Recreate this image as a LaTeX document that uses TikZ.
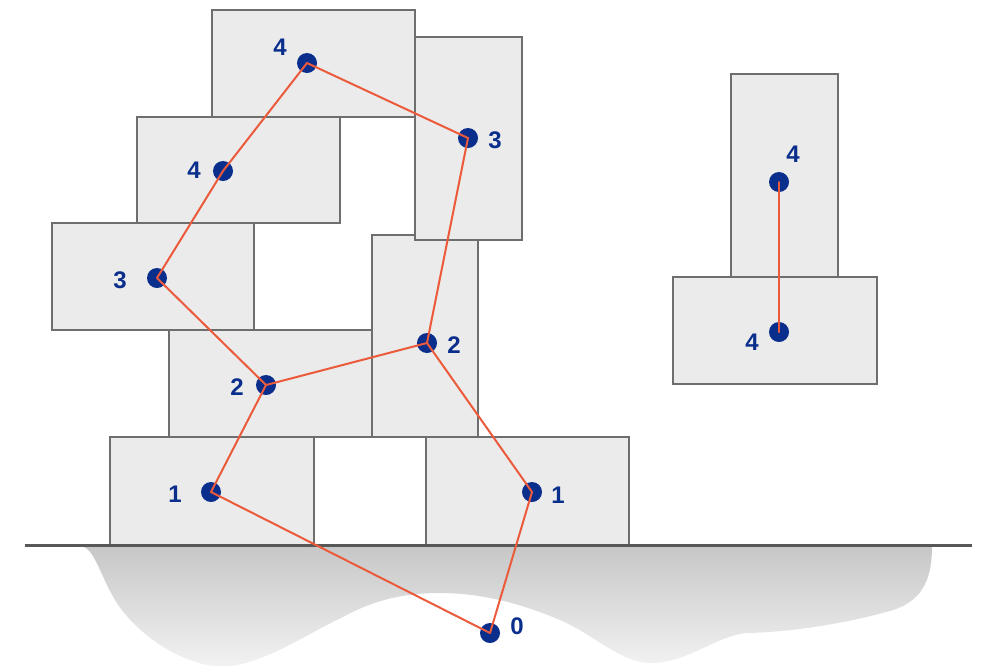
\documentclass[tikz,border=0pt]{standalone}
\usepackage{fontspec}
\setmainfont{Liberation Sans}
\begin{document}
\begin{tikzpicture}[x=1pt,y=-1pt,
  blockbox/.style={draw=blockedge, fill=blockfill, line width=1.5pt, inner sep=0pt, outer sep=0pt, rectangle},
  joint/.style={circle, fill=jointblue, minimum size=20pt, inner sep=0pt},
  link/.style={draw=linkred, line width=2pt, line cap=round, line join=round},
  tag/.style={text=jointblue, font=\fontsize{24}{26}\selectfont\bfseries, inner sep=0pt}]
\definecolor{blockfill}{HTML}{EBEBEB}
\definecolor{blockedge}{HTML}{6E6E6E}
\definecolor{jointblue}{HTML}{0A2E8C}
\definecolor{linkred}{HTML}{EC5A3C}
\definecolor{groundline}{HTML}{585858}
\useasboundingbox (0,0) rectangle (987,665);

% ground mass below the base line
\begin{scope}
\clip (0,0) rectangle (987,665);
\path[top color=black!22, bottom color=black!5]
  (82,546) -- (932,546)
  .. controls (932,575) and (925,600) .. (893,610)
  .. controls (860,620) and (800,632) .. (747,633)
  .. controls (715,636) and (690,662) .. (652,663)
  .. controls (620,663) and (595,635) .. (560,620)
  .. controls (520,603) and (480,593) .. (440,593)
  .. controls (400,593) and (370,602) .. (343,617)
  .. controls (310,632) and (260,667) .. (220,667)
  .. controls (170,662) and (130,625) .. (115,600)
  .. controls (100,575) and (95,550) .. (82,546) -- cycle;
\end{scope}

% blocks
\node[blockbox, minimum width=204pt, minimum height=108pt] (bA) at (212,491) {};
\node[blockbox, minimum width=203pt, minimum height=108pt] (bB) at (527.5,491) {};
\node[blockbox, minimum width=203pt, minimum height=107pt] (bC) at (270.5,383.5) {};
\node[blockbox, minimum width=106pt, minimum height=202pt] (bD) at (425,336) {};
\node[blockbox, minimum width=202pt, minimum height=107pt] (bE) at (153,276.5) {};
\node[blockbox, minimum width=203pt, minimum height=106pt] (bF) at (238.5,170) {};
\node[blockbox, minimum width=203pt, minimum height=107pt] (bG) at (313.5,63.5) {};
\node[blockbox, minimum width=107pt, minimum height=203pt] (bH) at (468.5,138.5) {};
\node[blockbox, minimum width=107pt, minimum height=203pt] (bI) at (784.5,175.5) {};
\node[blockbox, minimum width=204pt, minimum height=107pt] (bJ) at (775,330.5) {};

% base line
\coordinate (gl) at (25,545);
\coordinate (gr) at (972,545);
\draw[groundline, line width=3pt] (gl) -- (gr);

% joints
\node[joint] (j0) at (490,633) {};
\node[joint] (j1a) at (211,492) {};
\node[joint] (j1b) at (532,492) {};
\node[joint] (j2a) at (266,385) {};
\node[joint] (j2b) at (427,343) {};
\node[joint] (j3a) at (157,278) {};
\node[joint] (j3b) at (468,138) {};
\node[joint] (j4a) at (223,171) {};
\node[joint] (j4b) at (307,63) {};
\node[joint] (k4a) at (779,182) {};
\node[joint] (k4b) at (779,332) {};

% links
\draw[link] (j0.center) -- (j1a.center);
\draw[link] (j0.center) -- (j1b.center);
\draw[link] (j1a.center) -- (j2a.center);
\draw[link] (j1b.center) -- (j2b.center);
\draw[link] (j2a.center) -- (j2b.center);
\draw[link] (j2a.center) -- (j3a.center);
\draw[link] (j2b.center) -- (j3b.center);
\draw[link] (j3a.center) -- (j4a.center);
\draw[link] (j4a.center) -- (j4b.center);
\draw[link] (j4b.center) -- (j3b.center);
\draw[link] (k4a.center) -- (k4b.center);

% labels
\node[tag] (t0) at (517,626) {0};
\node[tag] (t1a) at (175,494) {1};
\node[tag] (t1b) at (558,495) {1};
\node[tag] (t2a) at (237,387) {2};
\node[tag] (t2b) at (454,345) {2};
\node[tag] (t3a) at (120,280) {3};
\node[tag] (t3b) at (495,140) {3};
\node[tag] (t4a) at (194,170) {4};
\node[tag] (t4b) at (280,47) {4};
\node[tag] (u4a) at (793,154) {4};
\node[tag] (u4b) at (752,342) {4};
\end{tikzpicture}
\end{document}
